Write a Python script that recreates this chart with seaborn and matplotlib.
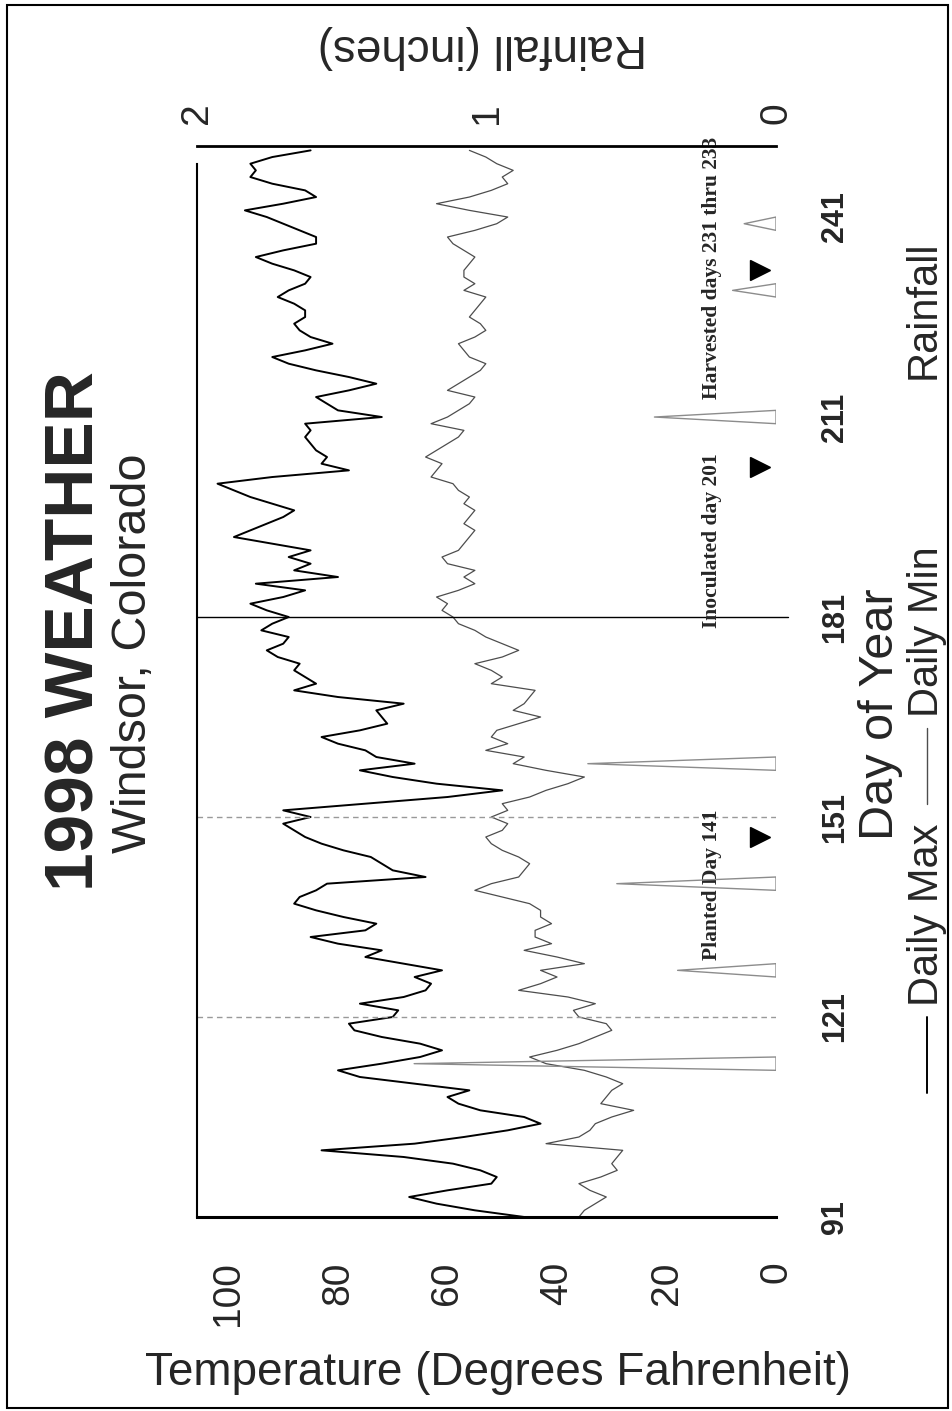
import numpy as np
import pandas as pd
import matplotlib
matplotlib.use('Agg')
import matplotlib.pyplot as plt
import seaborn as sns
from matplotlib.lines import Line2D
from matplotlib.patches import Rectangle

# day of year 91 .. 251
days = list(range(91, 252))
daily_max = [46, 55, 62, 67, 60, 52, 51, 54, 59, 68,
             83, 66, 57, 49, 43, 46, 54, 58, 60, 56,
             66, 76, 80, 72, 65, 61, 65, 72, 77, 78,
             70, 69, 76, 68, 64, 63, 66, 61, 68, 75,
             72, 80, 85, 75, 73, 79, 84, 88, 87, 84,
             82, 64, 70, 72, 74, 79, 83, 86, 88, 90,
             85, 90, 75, 60, 50, 62, 70, 76, 66, 73,
             75, 80, 83, 76, 71, 72, 73, 68, 80, 88,
             84, 86, 88, 87, 91, 93, 90, 89, 94, 92,
             89, 93, 96, 90, 86, 95, 80, 88, 85, 89,
             85, 92, 99, 96, 93, 90, 88, 92, 96, 99,
             102, 92, 78, 83, 82, 84, 85, 86, 85, 86,
             72, 80, 82, 84, 78, 73, 78, 84, 89, 92,
             86, 81, 85, 87, 88, 86, 86, 88, 91, 89,
             86, 85, 88, 92, 95, 90, 84, 84, 87, 90,
             93, 97, 90, 84, 86, 92, 96, 95, 96, 92,
             85]
daily_min = [36, 35, 33, 31, 34, 36, 32, 29, 30, 29,
             28, 42, 36, 34, 33, 30, 26, 32, 31, 30,
             28, 31, 35, 42, 45, 40, 36, 33, 30, 31,
             36, 37, 33, 38, 47, 43, 40, 43, 35, 40,
             46, 41, 44, 44, 41, 43, 43, 45, 50, 55,
             52, 47, 46, 45, 47, 50, 52, 53, 50, 49,
             52, 49, 50, 45, 42, 38, 35, 42, 48, 46,
             53, 49, 52, 51, 47, 43, 48, 46, 45, 44,
             52, 50, 52, 55, 50, 47, 50, 53, 55, 58,
             59, 61, 60, 62, 58, 55, 57, 55, 60, 61,
             58, 57, 56, 55, 57, 56, 55, 57, 56, 58,
             59, 63, 62, 61, 64, 62, 60, 58, 57, 63,
             60, 58, 56, 55, 60, 58, 56, 54, 53, 56,
             57, 58, 55, 53, 54, 56, 55, 54, 53, 57,
             55, 57, 57, 56, 55, 57, 59, 60, 55, 51,
             49, 56, 62, 56, 52, 49, 50, 48, 51, 53,
             56]

rain_days = [114, 128, 141, 159, 211, 230, 240]
rain_inches = [1.25, 0.34, 0.55, 0.65, 0.42, 0.15, 0.11]

marker_days = [148, 203.5, 233]
notes = ["Planted Day 141", "Inoculated day 201", "Harvested days 231 thru 233"]
note_days = [140.8, 192.5, 233.3]

day_ticks = [91, 121, 151, 181, 211, 241]
temp_ticks = [0, 20, 40, 60, 80, 100]
rain_ticks = [0, 1, 2]
month_lines = [121, 151]

sns.set_theme(style="white")
plt.rcParams['font.family'] = ['Liberation Sans', 'DejaVu Sans']

fig = plt.figure(figsize=(9.53, 14.11), dpi=100)
ax = fig.add_axes([0.2067, 0.1375, 0.6076, 0.7590])

df = pd.DataFrame({"day": days, "max": daily_max, "min": daily_min})
sns.lineplot(data=df, x="max", y="day", orient="y", color="black", lw=1.4, ax=ax)
sns.lineplot(data=df, x="min", y="day", orient="y", color="0.3", lw=0.9, ax=ax)

for d in month_lines:
    ax.axhline(d, color="0.6", ls=(0, (4, 3)), lw=1)
ax.axhline(181, color="black", lw=1, xmin=0, xmax=1.02, clip_on=False)

ax.set_xlim(105.75, 0)
ax.set_ylim(91, 251.65)
ax.set_xlabel("")
ax.set_ylabel("")

ax.set_xticks(temp_ticks)
ax.set_xticklabels([str(t) for t in temp_ticks], rotation=90, fontsize=28)
ax.tick_params(axis="x", length=0, pad=32)

ax.yaxis.tick_right()
ax.set_yticks(day_ticks)
ax.set_yticklabels([str(d) for d in day_ticks], rotation=90, fontsize=22,
                   fontweight="bold", va="center")
ax.tick_params(axis="y", length=0, pad=32)

for s in ["top", "right"]:
    ax.spines[s].set_visible(False)
ax.spines["left"].set_color("black")
ax.spines["left"].set_linewidth(1.5)
ax.spines["left"].set_bounds(91, 249)
ax.spines["bottom"].set_color("black")
ax.spines["bottom"].set_linewidth(2.2)

# markers and notes
ax.plot([2.9] * len(marker_days), marker_days, ls="none", marker=">",
        ms=15, color="black")
for txt, d in zip(notes, note_days):
    ax.text(11.7, d, txt, rotation=90, ha="center", va="center",
            family=["Liberation Serif"], fontweight="bold", fontsize=15.5)

# rainfall on the top axis
ax2 = ax.twiny()
ax2.set_xlim(2.0, 0)
for d, r in zip(rain_days, rain_inches):
    ax2.fill_betweenx([d - 1, d, d + 1], [0, r, 0], 0, facecolor="none",
                      edgecolor="0.55", lw=1.0)
ax2.set_xticks(rain_ticks)
ax2.set_xticklabels([str(r) for r in rain_ticks], rotation=90, fontsize=28)
ax2.tick_params(axis="x", length=0, pad=16)
for s in ["bottom", "left", "right"]:
    ax2.spines[s].set_visible(False)
ax2.spines["top"].set_color("black")
ax2.spines["top"].set_linewidth(2)

# titles and axis labels
fig.text(0.0787, 0.5528, "1998 WEATHER", rotation=90, ha="center", va="center",
         fontsize=50, fontweight="bold")
fig.text(0.1406, 0.5372, "Windsor, Colorado", rotation=90, ha="center",
         va="center", fontsize=35)
fig.text(0.5058, 0.9667, "Rainfall (inches)", rotation=180, ha="center",
         va="center", fontsize=33)
fig.text(0.5226, 0.0269, "Temperature (Degrees Fahrenheit)", ha="center",
         va="center", fontsize=33)
fig.text(0.9244, 0.4940, "Day of Year", rotation=90, ha="center", va="center",
         fontsize=35)

# legend
lx = 0.9727
fig.add_artist(Line2D([lx, lx], [0.2254, 0.2792], color="black", lw=1.4))
fig.text(lx, 0.3515, "Daily Max", rotation=90, ha="center", va="center", fontsize=30)
fig.add_artist(Line2D([lx, lx], [0.4302, 0.4840], color="0.3", lw=1.0))
fig.text(lx, 0.5521, "Daily Min", rotation=90, ha="center", va="center", fontsize=30)
fig.text(lx - 0.004, 0.7803, "Rainfall", rotation=90, ha="center", va="center", fontsize=30)

fig.add_artist(Rectangle((7 / 953, 0.0021), 941 / 953, 0.9943,
                         transform=fig.transFigure, fill=False, lw=1.5,
                         ec="black"))

fig.savefig("out.png", dpi=100)
